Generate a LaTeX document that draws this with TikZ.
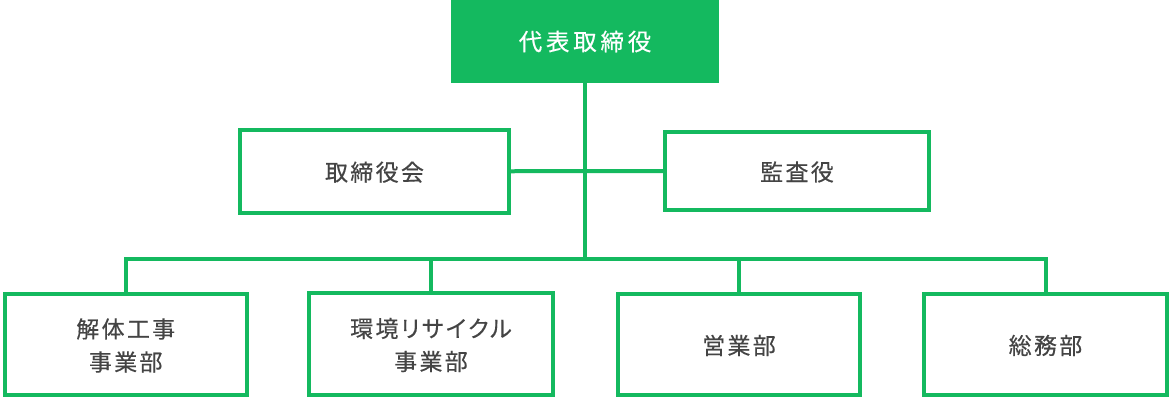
\documentclass[tikz,border=0pt]{standalone}
\usepackage{fontspec}
\setmainfont[LetterSpace=10,FakeBold=0.35]{Noto Sans CJK JP}
\newfontfamily\topfont[LetterSpace=16,FakeBold=0.45]{Noto Sans CJK JP}
\definecolor{orggreen}{RGB}{20,185,95}
\definecolor{orgtext}{RGB}{68,68,68}
\begin{document}
\begin{tikzpicture}[x=1pt,y=-1pt,
  orgbox/.style={draw=orggreen, line width=4pt, fill=white, rectangle, inner sep=0pt,
    text=orgtext, align=center, font=\fontsize{23}{33}\selectfont},
  midbox/.style={orgbox, text depth=-0.8pt},
  lowbox/.style={orgbox, text depth=-3.8pt},
  topbox/.style={fill=orggreen, rectangle, inner sep=0pt, text=white,
    font=\topfont\fontsize{23.5}{30}\selectfont},
  link/.style={draw=orggreen, line width=4pt, line join=miter}]
\useasboundingbox (0,0) rectangle (1170,400);
\node[topbox, minimum width=268pt, minimum height=83pt] (top) at (585,41.5) {代表取締役};
\node[midbox, minimum width=269pt, minimum height=82.5pt] (kk) at (374.5,171.25) {取締役会};
\node[midbox, minimum width=264pt, minimum height=78pt] (ka) at (797,171) {監査役};
\node[lowbox, minimum width=241.5pt, minimum height=101pt] (b1) at (125.75,344.5) {解体工事\\事業部};
\node[lowbox, minimum width=244pt, minimum height=102pt] (b2) at (431,344) {{\addfontfeature{RawFeature=+palt}環境リサイクル}\\事業部};
\node[lowbox, minimum width=242pt, minimum height=101pt] (b3) at (739,344.5) {営業部};
\node[lowbox, minimum width=243pt, minimum height=101pt] (b4) at (1045.5,344.5) {総務部};
\coordinate (bus) at (585,259);
\draw[link] (top.south) -- (bus);
\draw[link] (kk.east) -- (ka.west);
\draw[link] (b1.north) -- (b1.north |- bus) -- (b4.north |- bus) -- (b4.north);
\draw[link] (b2.north) -- (b2.north |- bus);
\draw[link] (b3.north) -- (b3.north |- bus);
\end{tikzpicture}
\end{document}
